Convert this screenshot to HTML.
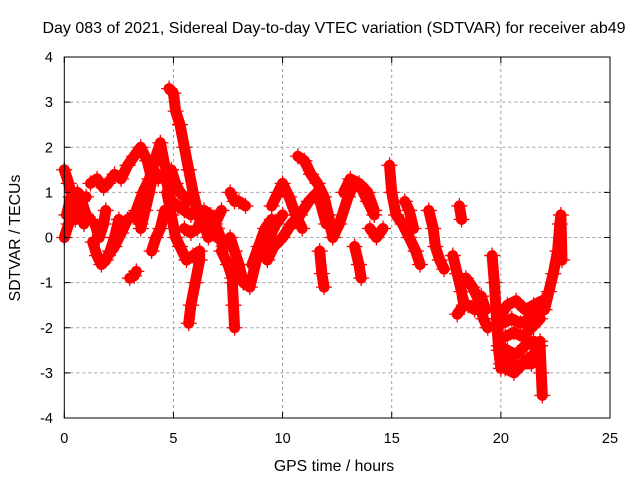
<!DOCTYPE html>
<html><head><meta charset="utf-8"><style>
body{margin:0;background:#fff}
svg{display:block;font-family:"Liberation Sans",sans-serif}
</style></head><body>
<svg id="chart" width="640" height="480" viewBox="0 0 640 480">
<rect width="640" height="480" fill="#fff"/>
<g id="grid"></g>
<g id="marks"></g>
<rect x="64.3" y="57" width="545.7" height="361" fill="none" stroke="#000" stroke-width="1"/>
<g id="ticks"></g>
<text x="334" y="33" font-size="16" text-anchor="middle">Day 083 of 2021, Sidereal Day-to-day VTEC variation (SDTVAR) for receiver ab49</text>
<text x="334" y="471" font-size="15.8" text-anchor="middle">GPS time / hours</text>
<text transform="translate(20,238) rotate(-90)" font-size="15.8" text-anchor="middle">SDTVAR / TECUs</text>
</svg>
<script>
const xTicks=[0,5,10,15,20,25];
const yTicks=[-4,-3,-2,-1,0,1,2,3,4];
const tracks=[
[[0,1.5],[0.2,1.2],[0.4,0.8],[0.6,1.0],[0.8,0.9],[1.0,0.9]],
[[0,0],[0.2,0.3],[0.4,0.6],[0.6,0.5],[0.8,0.8],[1.0,0.5],[1.2,0.4]],
[[0.1,0.5],[0.3,0.9],[0.5,0.4],[0.7,0.7],[0.9,0.3]],
[[1.3,-0.1],[1.5,-0.4],[1.7,-0.6],[1.9,-0.5],[2.1,-0.3],[2.3,0.0],[2.5,0.4]],
[[1.2,1.2],[1.5,1.3],[1.8,1.1],[2.0,1.2],[2.3,1.4],[2.6,1.3],[2.9,1.6],[3.2,1.8],[3.5,2.0],[3.8,1.7],[4.0,1.3]],
[[1.4,0.3],[1.6,0.0],[1.8,0.3],[1.9,0.6]],
[[2.0,-0.4],[2.3,-0.2],[2.6,0.1],[2.9,0.4],[3.2,0.5],[3.5,0.3]],
[[3.0,-0.9],[3.2,-0.85],[3.3,-0.75]],
[[3.3,0.6],[3.6,1.0],[3.9,1.3],[4.2,1.8],[4.4,2.1],[4.6,1.6]],
[[3.5,0.2],[3.7,0.6],[3.9,1.0],[4.1,1.5],[4.3,1.3]],
[[4.6,0.6],[4.4,0.2],[4.2,0.0],[4.0,-0.3]],
[[4.8,3.3],[5.0,3.2],[5.1,2.8],[5.3,2.5],[5.5,2.0],[5.7,1.5],[5.9,1.0],[6.1,0.6],[6.3,0.4],[6.6,0.5],[7.0,0.2],[7.3,-0.2]],
[[4.7,1.0],[4.9,0.5],[5.1,0.0],[5.3,-0.2],[5.6,-0.5],[5.9,-0.4],[6.2,-0.3],[6.2,-0.5],[6.0,-1.0],[5.8,-1.5],[5.7,-1.9]],
[[4.6,1.4],[4.9,0.8],[5.2,0.7],[5.5,0.6],[5.8,0.5],[6.1,0.6],[6.4,0.3],[6.6,0.0],[6.9,0.3],[7.2,0.6]],
[[5.5,0.2],[5.8,0.1],[6.1,0.2],[6.4,0.6],[6.7,0.5],[7.0,0.0]],
[[4.9,1.5],[5.1,1.2],[5.3,1.0],[5.5,0.9],[5.7,0.8]],
[[7.6,1.0],[7.8,0.8],[8.0,0.8],[8.3,0.7]],
[[7.6,0.0],[7.8,-0.3],[8.0,-0.6],[8.2,-1.0],[8.5,-1.1],[8.8,-0.5],[9.1,-0.3],[9.4,0.0],[9.7,0.3],[10.0,0.5]],
[[7.7,-1.0],[7.75,-1.5],[7.8,-2.0]],
[[7.2,-0.3],[7.5,-0.6],[7.7,-0.9]],
[[8.6,-0.6],[8.9,-0.2],[9.2,0.2],[9.5,0.4]],
[[9.5,0.7],[9.8,1.0],[10.0,1.2],[10.3,0.9],[10.6,0.5],[10.9,0.2]],
[[9.3,-0.5],[9.6,-0.2],[10.0,0.0],[10.4,0.3],[10.8,0.5],[11.2,0.8],[11.6,1.0],[12.0,0.3]],
[[10.7,1.8],[11.0,1.7],[11.3,1.4],[11.6,1.2],[11.9,0.9],[12.1,0.5],[12.3,0.0]],
[[11.7,-0.3],[11.8,-0.8],[11.9,-1.1]],
[[12.3,0.0],[12.6,0.3],[13.0,0.9],[13.3,1.2],[13.6,1.1],[13.9,0.8],[14.2,0.5]],
[[12.8,1.0],[13.1,1.3],[13.5,1.2],[13.9,1.0],[14.2,0.6]],
[[13.3,-0.2],[13.5,-0.6],[13.6,-0.9]],
[[14.0,0.2],[14.3,0.0],[14.6,0.2]],
[[14.9,1.6],[15.0,1.0],[15.2,0.5],[15.5,0.3],[15.8,0.0],[16.1,-0.3],[16.3,-0.6]],
[[15.6,0.8],[15.8,0.6],[16.0,0.2]],
[[16.7,0.6],[16.9,0.2],[17.0,-0.2],[17.2,-0.5],[17.4,-0.7]],
[[18.1,0.7],[18.2,0.4]],
[[17.8,-0.4],[18.0,-0.8],[18.2,-1.2],[18.3,-1.5],[18.0,-1.7]],
[[18.4,-0.9],[18.7,-1.1],[19.0,-1.4],[19.2,-1.8],[19.4,-2.0]],
[[18.5,-1.5],[18.8,-1.6],[19.1,-1.3],[19.3,-1.6]],
[[19.6,-0.4],[19.7,-1.0],[19.8,-1.8],[19.9,-2.5],[20.0,-2.9]],
[[20.0,-2.8],[20.4,-2.7],[20.8,-2.9],[21.2,-2.7],[21.5,-2.6],[21.8,-2.3]],
[[19.9,-2.4],[20.3,-2.5],[20.7,-2.6],[21.1,-2.4],[21.5,-2.3]],
[[19.9,-1.8],[20.3,-1.5],[20.7,-1.4],[21.1,-1.6],[21.5,-1.5],[21.9,-1.4]],
[[20.2,-2.2],[20.6,-2.1],[21.0,-2.2],[21.4,-2.0],[21.8,-1.8]],
[[20.1,-1.9],[20.5,-1.8],[20.9,-1.9],[21.3,-1.8],[21.7,-1.6]],
[[20.2,-2.9],[20.6,-3.0],[21.0,-2.8],[21.4,-2.8]],
[[21.8,-2.4],[21.85,-3.0],[21.9,-3.5]],
[[22.0,-1.6],[22.2,-1.2],[22.4,-0.8],[22.6,-0.3],[22.7,0.3],[22.75,0.5],[22.8,-0.5]]
];
const X0=64.3,X1=610,Y0=418,Y1=57;
function sx(t){return X0+(t-0)/(25-0)*(X1-X0);}
function sy(v){return Y0-(v+4)/8*(Y0-Y1);}
const NS='http://www.w3.org/2000/svg';
const grid=document.getElementById('grid'),ticks=document.getElementById('ticks'),marks=document.getElementById('marks');
function mk(tag,attrs,parent){const e=document.createElementNS(NS,tag);for(const k in attrs)e.setAttribute(k,attrs[k]);parent.appendChild(e);return e;}
xTicks.forEach(t=>{
  const x=sx(t);
  if(t>0&&t<25){const g=mk('line',{x1:x,x2:x,y1:Y1,y2:Y0,stroke:'#a0a0a0','stroke-dasharray':'3,3'},grid);
  
  }
  const tk=mk('path',{d:`M${x},${Y0}v-6M${x},${Y1}v6`,stroke:'#000'},ticks);
  
  
  const lb=mk('text',{x:x,y:443,'font-size':14.5,'text-anchor':'middle'},ticks);lb.textContent=t;
  
  
});
yTicks.forEach(v=>{
  const y=sy(v);
  if(v>-4&&v<4){const g=mk('line',{x1:X0,x2:X1,y1:y,y2:y,stroke:'#a0a0a0','stroke-dasharray':'3,3'},grid);
  
  }
  const tk=mk('path',{d:`M${X0},${y}h6M${X1},${y}h-6`,stroke:'#000'},ticks);
  
  
  const lb=mk('text',{x:53,y:y+5,'font-size':14.5,'text-anchor':'end'},ticks);lb.textContent=v;
  
  
});
tracks.forEach((tr,i)=>{
  const pl=mk('polyline',{points:tr.map(p=>sx(p[0])+','+sy(p[1])).join(' '),fill:'none',stroke:'#ff0000','stroke-width':11,'stroke-linejoin':'round','stroke-linecap':'round'},marks);
  
  
  tr.forEach(p=>{
    const x=sx(p[0]),y=sy(p[1]);
    const m=mk('path',{d:`M${x-8},${y}h16M${x},${y-8}v16`,stroke:'#ff0000','stroke-width':1.3},marks);
    
    
  });
});
</script>
</body></html>
